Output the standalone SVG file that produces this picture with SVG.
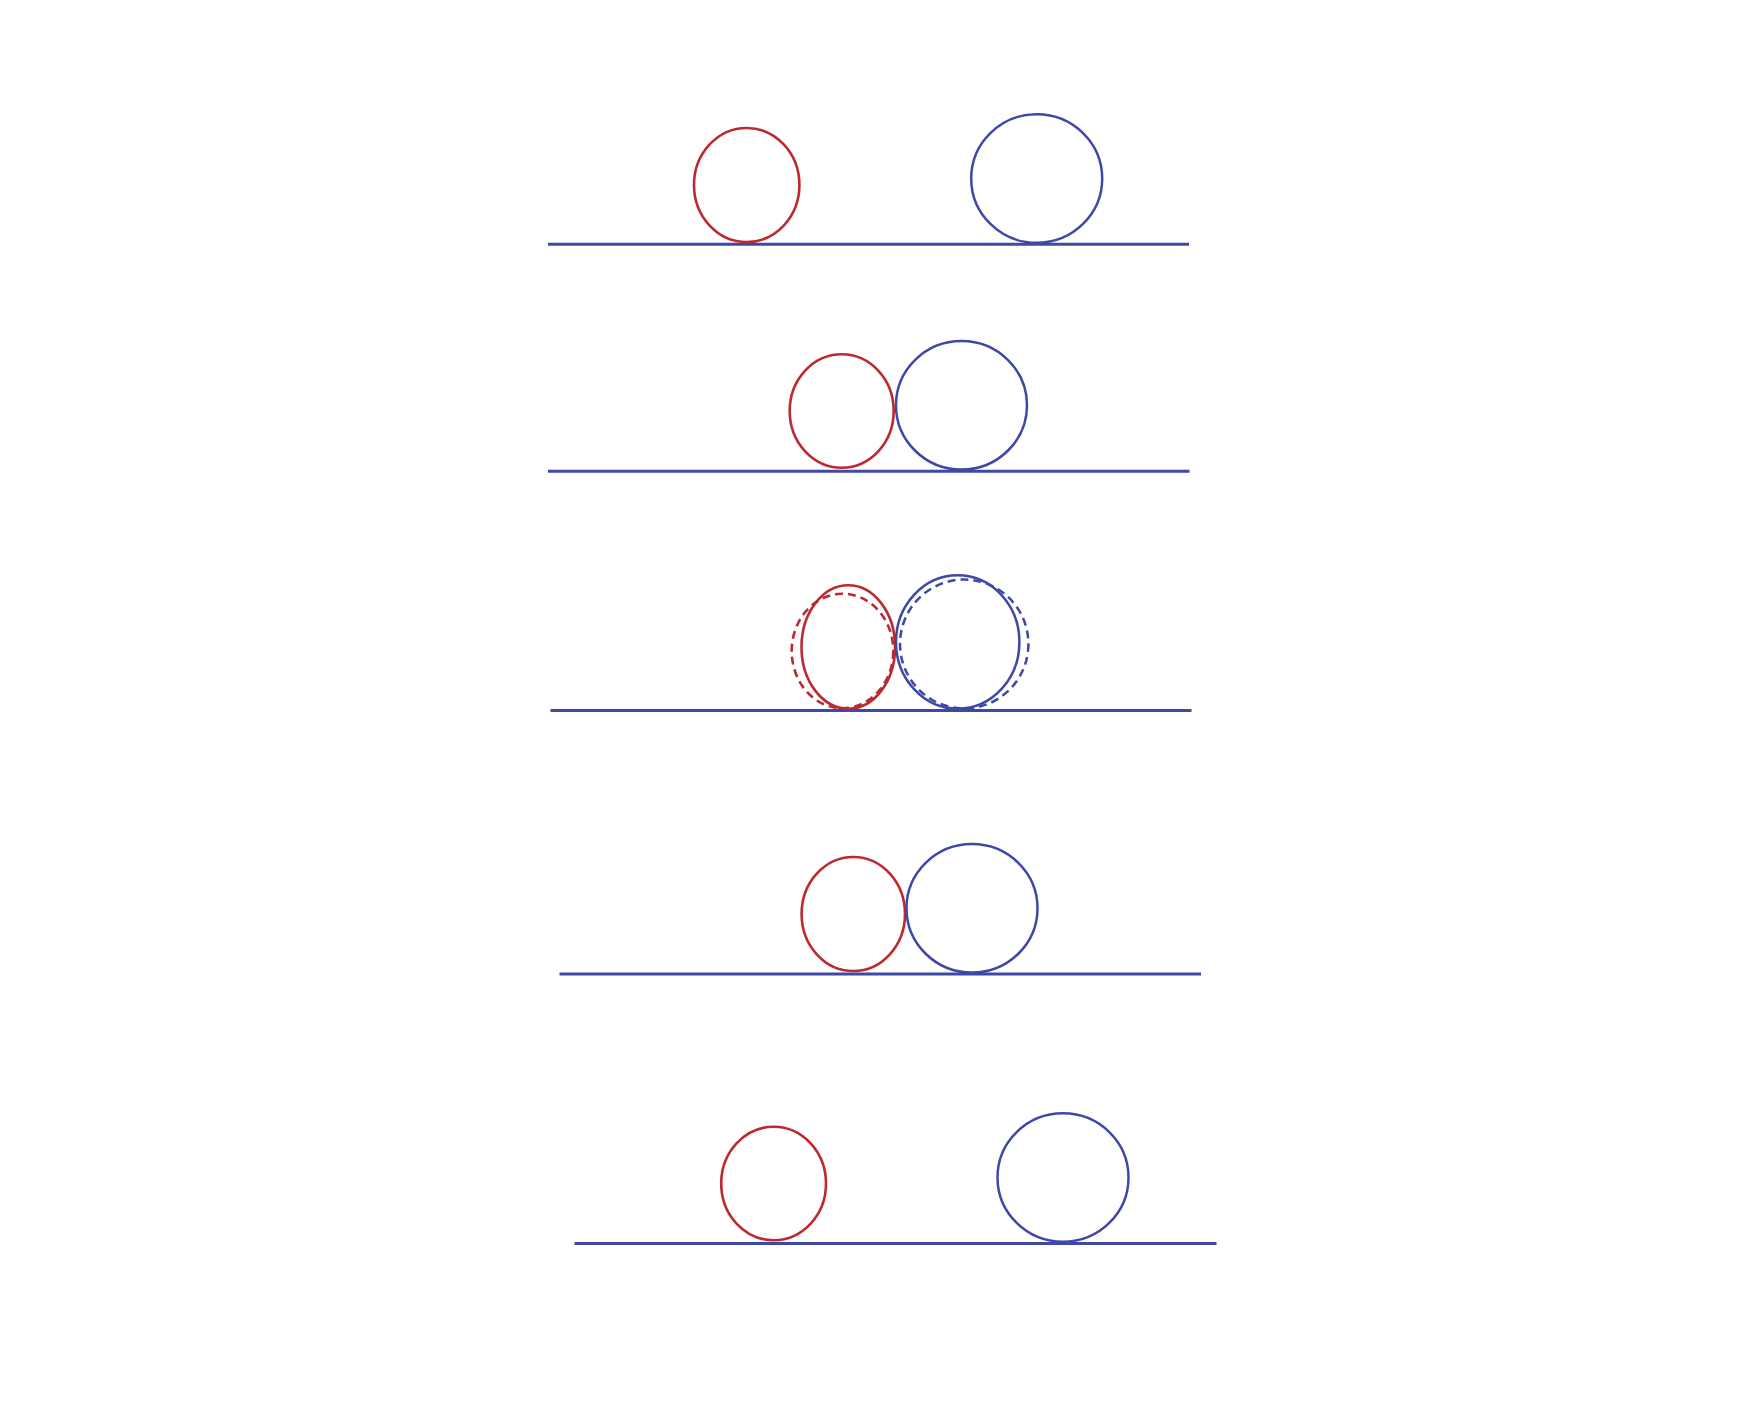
<svg xmlns="http://www.w3.org/2000/svg" width="1762" height="1412" viewBox="0 0 1762 1412">
<style>
.red{fill:none;stroke:#bb2a30;stroke-width:2.6}
.blue{fill:none;stroke:#3e48a5;stroke-width:2.5}
.ground{fill:none;stroke:#3e48a5;stroke-width:3}
.dash{stroke-dasharray:8 5}
</style>
<rect width="1762" height="1412" fill="#ffffff"/>
<g id="connectors">
<line class="ground" x1="548" y1="244.3" x2="1189" y2="244.3"/>
<line class="ground" x1="548" y1="471.3" x2="1189.5" y2="471.3"/>
<line class="ground" x1="550.5" y1="710.5" x2="1191.5" y2="710.5"/>
<line class="ground" x1="559.5" y1="974" x2="1201" y2="974"/>
<line class="ground" x1="574.5" y1="1243.5" x2="1216.5" y2="1243.5"/>
</g>
<g id="row1">
<ellipse id="red1" class="red" cx="746.7" cy="185" rx="52.7" ry="57"/>
<ellipse id="blue1" class="blue" cx="1036.7" cy="178.5" rx="65.5" ry="64.3"/>
</g>
<g id="row2">
<ellipse id="red2" class="red" cx="841.7" cy="411" rx="52" ry="56.7"/>
<ellipse id="blue2" class="blue" cx="961.5" cy="405.3" rx="65.5" ry="64.3"/>
</g>
<g id="row3">
<ellipse id="red3dash" class="red dash" cx="842.5" cy="651" rx="50.8" ry="57.3"/>
<ellipse id="red3" class="red" cx="848.3" cy="647" rx="46.8" ry="61.7"/>
<ellipse id="blue3dash" class="blue dash" cx="964.2" cy="644" rx="64.2" ry="64.5"/>
<ellipse id="blue3" class="blue" cx="957.7" cy="642" rx="61.7" ry="66.7"/>
</g>
<g id="row4">
<ellipse id="red4" class="red" cx="853.3" cy="914" rx="51.7" ry="57"/>
<ellipse id="blue4" class="blue" cx="972" cy="908.3" rx="65.5" ry="64.3"/>
</g>
<g id="row5">
<ellipse id="red5" class="red" cx="773.6" cy="1183.5" rx="52.4" ry="56.7"/>
<ellipse id="blue5" class="blue" cx="1063" cy="1177.5" rx="65.5" ry="64.2"/>
</g>
</svg>
